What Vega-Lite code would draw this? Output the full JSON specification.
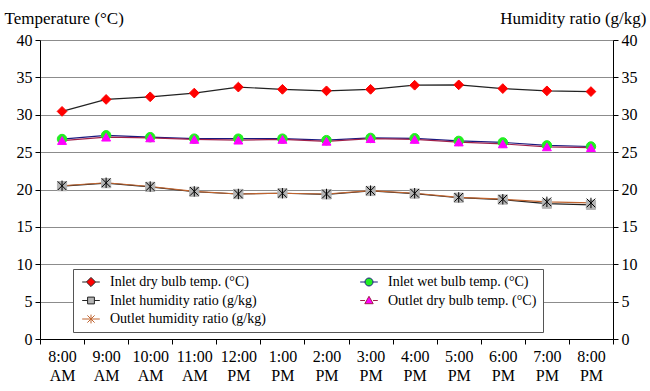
{
  "$schema": "https://vega.github.io/schema/vega-lite/v6.json",
  "width": 573,
  "height": 299,
  "autosize": {"type": "none"},
  "padding": {"left": 40, "top": 40, "right": 37, "bottom": 52},
  "background": "white",
  "config": {
    "font": "Liberation Serif, Times New Roman, serif",
    "view": {"stroke": null},
    "axis": {"labelColor": "black", "titleColor": "black", "labelFont": "Liberation Serif, Times New Roman, serif", "titleFont": "Liberation Serif, Times New Roman, serif"},
    "legend": {"labelFont": "Liberation Serif, Times New Roman, serif"}
  },
  "data": {
    "values": [
      {"series": "Inlet dry bulb temp. (°C)", "time": "8:00 AM", "v": 30.45},
      {"series": "Inlet dry bulb temp. (°C)", "time": "9:00 AM", "v": 32.05},
      {"series": "Inlet dry bulb temp. (°C)", "time": "10:00 AM", "v": 32.4},
      {"series": "Inlet dry bulb temp. (°C)", "time": "11:00 AM", "v": 32.9},
      {"series": "Inlet dry bulb temp. (°C)", "time": "12:00 PM", "v": 33.7},
      {"series": "Inlet dry bulb temp. (°C)", "time": "1:00 PM", "v": 33.4},
      {"series": "Inlet dry bulb temp. (°C)", "time": "2:00 PM", "v": 33.2},
      {"series": "Inlet dry bulb temp. (°C)", "time": "3:00 PM", "v": 33.4},
      {"series": "Inlet dry bulb temp. (°C)", "time": "4:00 PM", "v": 33.95},
      {"series": "Inlet dry bulb temp. (°C)", "time": "5:00 PM", "v": 34.0},
      {"series": "Inlet dry bulb temp. (°C)", "time": "6:00 PM", "v": 33.5},
      {"series": "Inlet dry bulb temp. (°C)", "time": "7:00 PM", "v": 33.2},
      {"series": "Inlet dry bulb temp. (°C)", "time": "8:00 PM", "v": 33.1},
      {"series": "Inlet wet bulb temp. (°C)", "time": "8:00 AM", "v": 26.75},
      {"series": "Inlet wet bulb temp. (°C)", "time": "9:00 AM", "v": 27.25},
      {"series": "Inlet wet bulb temp. (°C)", "time": "10:00 AM", "v": 27.0},
      {"series": "Inlet wet bulb temp. (°C)", "time": "11:00 AM", "v": 26.8},
      {"series": "Inlet wet bulb temp. (°C)", "time": "12:00 PM", "v": 26.8},
      {"series": "Inlet wet bulb temp. (°C)", "time": "1:00 PM", "v": 26.8},
      {"series": "Inlet wet bulb temp. (°C)", "time": "2:00 PM", "v": 26.6},
      {"series": "Inlet wet bulb temp. (°C)", "time": "3:00 PM", "v": 26.9},
      {"series": "Inlet wet bulb temp. (°C)", "time": "4:00 PM", "v": 26.85},
      {"series": "Inlet wet bulb temp. (°C)", "time": "5:00 PM", "v": 26.5},
      {"series": "Inlet wet bulb temp. (°C)", "time": "6:00 PM", "v": 26.3},
      {"series": "Inlet wet bulb temp. (°C)", "time": "7:00 PM", "v": 25.9},
      {"series": "Inlet wet bulb temp. (°C)", "time": "8:00 PM", "v": 25.75},
      {"series": "Inlet humidity ratio (g/kg)", "time": "8:00 AM", "v": 20.45},
      {"series": "Inlet humidity ratio (g/kg)", "time": "9:00 AM", "v": 20.85},
      {"series": "Inlet humidity ratio (g/kg)", "time": "10:00 AM", "v": 20.35},
      {"series": "Inlet humidity ratio (g/kg)", "time": "11:00 AM", "v": 19.7},
      {"series": "Inlet humidity ratio (g/kg)", "time": "12:00 PM", "v": 19.4},
      {"series": "Inlet humidity ratio (g/kg)", "time": "1:00 PM", "v": 19.5},
      {"series": "Inlet humidity ratio (g/kg)", "time": "2:00 PM", "v": 19.35},
      {"series": "Inlet humidity ratio (g/kg)", "time": "3:00 PM", "v": 19.8},
      {"series": "Inlet humidity ratio (g/kg)", "time": "4:00 PM", "v": 19.45},
      {"series": "Inlet humidity ratio (g/kg)", "time": "5:00 PM", "v": 18.9},
      {"series": "Inlet humidity ratio (g/kg)", "time": "6:00 PM", "v": 18.65},
      {"series": "Inlet humidity ratio (g/kg)", "time": "7:00 PM", "v": 18.1},
      {"series": "Inlet humidity ratio (g/kg)", "time": "8:00 PM", "v": 17.95},
      {"series": "Outlet dry bulb temp. (°C)", "time": "8:00 AM", "v": 26.55},
      {"series": "Outlet dry bulb temp. (°C)", "time": "9:00 AM", "v": 27.0},
      {"series": "Outlet dry bulb temp. (°C)", "time": "10:00 AM", "v": 26.9},
      {"series": "Outlet dry bulb temp. (°C)", "time": "11:00 AM", "v": 26.7},
      {"series": "Outlet dry bulb temp. (°C)", "time": "12:00 PM", "v": 26.6},
      {"series": "Outlet dry bulb temp. (°C)", "time": "1:00 PM", "v": 26.7},
      {"series": "Outlet dry bulb temp. (°C)", "time": "2:00 PM", "v": 26.45},
      {"series": "Outlet dry bulb temp. (°C)", "time": "3:00 PM", "v": 26.8},
      {"series": "Outlet dry bulb temp. (°C)", "time": "4:00 PM", "v": 26.7},
      {"series": "Outlet dry bulb temp. (°C)", "time": "5:00 PM", "v": 26.35},
      {"series": "Outlet dry bulb temp. (°C)", "time": "6:00 PM", "v": 26.1},
      {"series": "Outlet dry bulb temp. (°C)", "time": "7:00 PM", "v": 25.7},
      {"series": "Outlet dry bulb temp. (°C)", "time": "8:00 PM", "v": 25.6},
      {"series": "Outlet humidity ratio (g/kg)", "time": "8:00 AM", "v": 20.5},
      {"series": "Outlet humidity ratio (g/kg)", "time": "9:00 AM", "v": 20.9},
      {"series": "Outlet humidity ratio (g/kg)", "time": "10:00 AM", "v": 20.4},
      {"series": "Outlet humidity ratio (g/kg)", "time": "11:00 AM", "v": 19.75},
      {"series": "Outlet humidity ratio (g/kg)", "time": "12:00 PM", "v": 19.4},
      {"series": "Outlet humidity ratio (g/kg)", "time": "1:00 PM", "v": 19.5},
      {"series": "Outlet humidity ratio (g/kg)", "time": "2:00 PM", "v": 19.4},
      {"series": "Outlet humidity ratio (g/kg)", "time": "3:00 PM", "v": 19.85},
      {"series": "Outlet humidity ratio (g/kg)", "time": "4:00 PM", "v": 19.5},
      {"series": "Outlet humidity ratio (g/kg)", "time": "5:00 PM", "v": 18.95},
      {"series": "Outlet humidity ratio (g/kg)", "time": "6:00 PM", "v": 18.7},
      {"series": "Outlet humidity ratio (g/kg)", "time": "7:00 PM", "v": 18.35},
      {"series": "Outlet humidity ratio (g/kg)", "time": "8:00 PM", "v": 18.2}
    ]
  },
  "encoding": {
    "x": {
      "field": "time",
      "type": "ordinal",
      "sort": ["8:00 AM", "9:00 AM", "10:00 AM", "11:00 AM", "12:00 PM", "1:00 PM", "2:00 PM", "3:00 PM", "4:00 PM", "5:00 PM", "6:00 PM", "7:00 PM", "8:00 PM"],
      "scale": {"type": "band", "paddingInner": 0, "paddingOuter": 0},
      "axis": {
        "title": null,
        "labelAngle": 0,
        "labelExpr": "split(datum.label, ' ')",
        "labelFontSize": 16,
        "labelLineHeight": 19,
        "labelPadding": 4,
        "tickBand": "extent",
        "tickSize": 5,
        "tickColor": "black",
        "domainColor": "black",
        "grid": false
      }
    }
  },
  "layer": [
    {
      "mark": {"type": "line", "strokeWidth": 1.2},
      "encoding": {
        "y": {
          "field": "v",
          "type": "quantitative",
          "scale": {"domain": [0, 40]},
          "axis": {
            "orient": "left",
            "values": [0, 5, 10, 15, 20, 25, 30, 35, 40],
            "grid": true,
            "gridColor": "#8c8c8c",
            "gridWidth": 1,
            "domainColor": "black",
            "tickColor": "black",
            "tickSize": 5,
            "labelFontSize": 16,
            "labelPadding": 3,
            "title": "Temperature (°C)",
            "titleAngle": 0,
            "titleAlign": "left",
            "titleBaseline": "alphabetic",
            "titleX": -36,
            "titleY": -17,
            "titleFontSize": 17,
            "titleFontWeight": "normal"
          }
        },
        "stroke": {
          "field": "series",
          "type": "nominal",
          "scale": {
            "domain": ["Inlet dry bulb temp. (°C)", "Inlet wet bulb temp. (°C)", "Inlet humidity ratio (g/kg)", "Outlet dry bulb temp. (°C)", "Outlet humidity ratio (g/kg)"],
            "range": ["#222222", "#1a1a80", "#222222", "#a0204a", "#c0642f"]
          },
          "legend": null
        }
      }
    },
    {
      "mark": {"type": "point", "filled": true, "opacity": 1, "strokeWidth": 1},
      "encoding": {
        "y": {
          "field": "v",
          "type": "quantitative",
          "scale": {"domain": [0, 40]},
          "axis": {
            "orient": "right",
            "values": [0, 5, 10, 15, 20, 25, 30, 35, 40],
            "grid": false,
            "domainColor": "black",
            "tickColor": "black",
            "tickSize": 5,
            "labelFontSize": 16,
            "labelPadding": 3,
            "title": "Humidity ratio (g/kg)",
            "titleAngle": 0,
            "titleAlign": "right",
            "titleBaseline": "alphabetic",
            "titleX": 33,
            "titleY": -17,
            "titleFontSize": 17,
            "titleFontWeight": "normal"
          }
        },
        "fill": {
          "field": "series",
          "type": "nominal",
          "scale": {
            "domain": ["Inlet dry bulb temp. (°C)", "Inlet wet bulb temp. (°C)", "Inlet humidity ratio (g/kg)", "Outlet dry bulb temp. (°C)", "Outlet humidity ratio (g/kg)"],
            "range": ["#ff0000", "#22ee22", "#b4b4b4", "#ff00ff", "#000000"]
          },
          "legend": null
        },
        "stroke": {
          "field": "series",
          "type": "nominal",
          "scale": {
            "domain": ["Inlet dry bulb temp. (°C)", "Inlet wet bulb temp. (°C)", "Inlet humidity ratio (g/kg)", "Outlet dry bulb temp. (°C)", "Outlet humidity ratio (g/kg)"],
            "range": ["#ff0000", "#22ee22", "#b4b4b4", "#ff00ff", "#000000"]
          },
          "legend": null
        },
        "shape": {
          "field": "series",
          "type": "nominal",
          "scale": {
            "domain": ["Inlet dry bulb temp. (°C)", "Inlet wet bulb temp. (°C)", "Inlet humidity ratio (g/kg)", "Outlet dry bulb temp. (°C)", "Outlet humidity ratio (g/kg)"],
            "range": ["diamond", "circle", "square", "triangle-up", "M-1,-1L1,1M-1,1L1,-1M0,-1.2L0,1.2"]
          },
          "legend": null
        },
        "size": {
          "field": "series",
          "type": "nominal",
          "scale": {
            "domain": ["Inlet dry bulb temp. (°C)", "Inlet wet bulb temp. (°C)", "Inlet humidity ratio (g/kg)", "Outlet dry bulb temp. (°C)", "Outlet humidity ratio (g/kg)"],
            "range": [95, 75, 36, 55, 30]
          },
          "legend": null
        }
      }
    },
    {
      "transform": [{"filter": "false"}],
      "mark": {"type": "point", "filled": true, "opacity": 1},
      "encoding": {
        "fill": {
          "field": "series",
          "type": "nominal",
          "scale": {
            "domain": ["Inlet dry bulb temp. (°C)", "Inlet wet bulb temp. (°C)", "Inlet humidity ratio (g/kg)", "Outlet dry bulb temp. (°C)", "Outlet humidity ratio (g/kg)"],
            "range": ["#ff0000", "#22ee22", "#b4b4b4", "#ff00ff", "#000000"]
          },
          "legend": {"title": null, "orient": "none", "legendX": 33, "legendY": 229, "columns": 2, "direction": "horizontal", "strokeColor": "#555555", "fillColor": "white", "padding": 6, "symbolSize": 64, "symbolStrokeWidth": 1, "symbolOffset": 5, "labelOffset": 12, "labelFontSize": 14, "labelColor": "black", "rowPadding": 4.5, "columnPadding": 91, "labelLimit": 500}
        },
        "stroke": {
          "field": "series",
          "type": "nominal",
          "scale": {
            "domain": ["Inlet dry bulb temp. (°C)", "Inlet wet bulb temp. (°C)", "Inlet humidity ratio (g/kg)", "Outlet dry bulb temp. (°C)", "Outlet humidity ratio (g/kg)"],
            "range": ["#222222", "#1a1a80", "#222222", "#a0204a", "#c0642f"]
          },
          "legend": {"title": null, "orient": "none", "legendX": 33, "legendY": 229, "columns": 2, "direction": "horizontal", "strokeColor": "#555555", "fillColor": "white", "padding": 6, "symbolSize": 64, "symbolStrokeWidth": 1, "symbolOffset": 5, "labelOffset": 12, "labelFontSize": 14, "labelColor": "black", "rowPadding": 4.5, "columnPadding": 91, "labelLimit": 500}
        },
        "shape": {
          "field": "series",
          "type": "nominal",
          "scale": {
            "domain": ["Inlet dry bulb temp. (°C)", "Inlet wet bulb temp. (°C)", "Inlet humidity ratio (g/kg)", "Outlet dry bulb temp. (°C)", "Outlet humidity ratio (g/kg)"],
            "range": [
              "M-2.2,0L-1.15,0M1.15,0L2.2,0M0,-1.15L1.15,0L0,1.15L-1.15,0Z",
              "M-2.2,0L-1,0M1,0L2.2,0M1,0A1,1 0 1,1 -1,0A1,1 0 1,1 1,0Z",
              "M-2.2,0L-0.85,0M0.85,0L2.2,0M-0.85,-0.85L0.85,-0.85L0.85,0.85L-0.85,0.85Z",
              "M-2.2,0L-1,0M1,0L2.2,0M0,-1.05L1.05,0.8L-1.05,0.8Z",
              "M-2.2,0L2.2,0M-0.9,-0.9L0.9,0.9M-0.9,0.9L0.9,-0.9M0,-1.1L0,1.1"
            ]
          },
          "legend": {"title": null, "orient": "none", "legendX": 33, "legendY": 229, "columns": 2, "direction": "horizontal", "strokeColor": "#555555", "fillColor": "white", "padding": 6, "symbolSize": 64, "symbolStrokeWidth": 1, "symbolOffset": 5, "labelOffset": 12, "labelFontSize": 14, "labelColor": "black", "rowPadding": 4.5, "columnPadding": 91, "labelLimit": 500}
        }
      }
    }
  ],
  "resolve": {
    "scale": {"fill": "independent", "stroke": "independent", "shape": "independent", "size": "independent"},
    "axis": {"y": "independent"}
  }
}
